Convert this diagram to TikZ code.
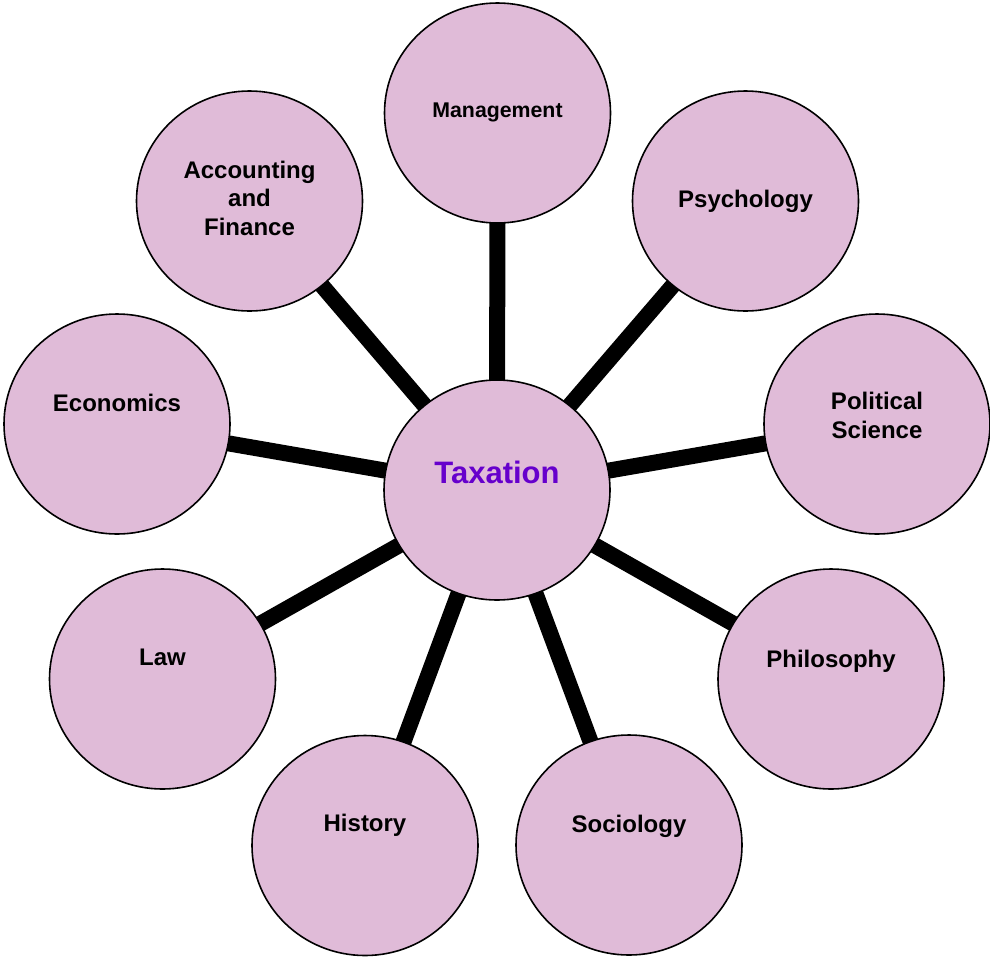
\documentclass[tikz,border=0pt]{standalone}
\usepackage{fontspec}
\setmainfont{Liberation Sans}
\usepackage{tikz}
\usetikzlibrary{shapes.geometric,backgrounds}

\definecolor{lilac}{RGB}{224,187,216}
\definecolor{taxpurple}{RGB}{102,0,204}

\begin{document}
\begin{tikzpicture}[x=1pt,y=-1pt,font=\bfseries]
  \tikzstyle{subject}=[ellipse,draw=black,line width=1.6pt,fill=lilac,
                       minimum width=226pt,minimum height=220pt,inner sep=0pt]
  \tikzstyle{subjtext}=[align=center,inner sep=0pt,
                        font=\bfseries\fontsize{24}{28.5}\selectfont]
  \tikzstyle{link}=[line width=16pt,black]

  \useasboundingbox (0,0) rectangle (990,959);

  \node[subject] (T)  at (497,490)   {};
  \node[subject] (M)  at (497.5,113) {};
  \node[subject] (P)  at (745.5,201) {};
  \node[subject] (PS) at (877,424)   {};
  \node[subject] (Ph) at (831,679)   {};
  \node[subject] (S)  at (629,845)   {};
  \node[subject] (H)  at (365,845.5) {};
  \node[subject] (L)  at (162.5,679) {};
  \node[subject] (E)  at (117,424)   {};
  \node[subject] (AF) at (249.5,201) {};

  \begin{scope}[on background layer]
    \foreach \s in {M,P,PS,Ph,S,H,L,E,AF}
      \draw[link] (T.center) -- (\s.center);
  \end{scope}

  \node[subjtext,anchor=base,text=taxpurple,font=\bfseries\fontsize{31}{36}\selectfont]
       (Tt) at ([yshift=7pt]T.center) {Taxation};
  \node[subjtext,anchor=base,font=\bfseries\fontsize{21.3}{25}\selectfont]
       (Mt) at ([yshift=-4pt]M.center) {Management};
  \node[subjtext,anchor=base] (Pt)  at ([yshift=-6pt]P.center)    {Psychology};
  \node[subjtext]             (PSt) at ([yshift=8.5pt]PS.center)  {Political\\Science};
  \node[subjtext,anchor=base] (Pht) at ([yshift=12pt]Ph.center)   {Philosophy};
  \node[subjtext,anchor=base] (St)  at ([yshift=13pt]S.center)    {Sociology};
  \node[subjtext,anchor=base] (Ht)  at ([yshift=14.5pt]H.center)  {History};
  \node[subjtext,anchor=base] (Lt)  at ([yshift=14pt]L.center)    {Law};
  \node[subjtext,anchor=base] (Et)  at ([yshift=13pt]E.center)    {Economics};
  \node[subjtext]             (AFt) at ([yshift=3pt]AF.center)    {Accounting\\and\\Finance};
\end{tikzpicture}
\end{document}
